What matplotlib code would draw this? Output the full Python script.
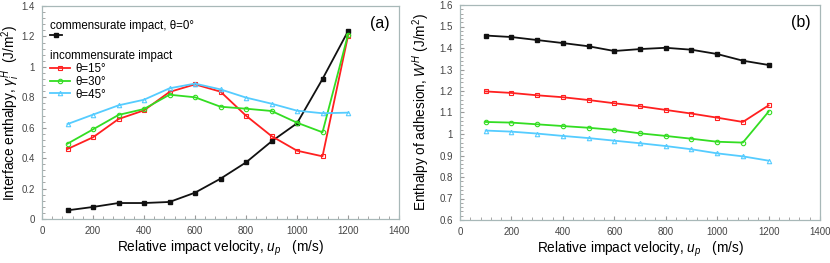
import matplotlib
matplotlib.use("Agg")
import matplotlib.pyplot as plt
from matplotlib.ticker import AutoMinorLocator, FuncFormatter

plt.rcParams["font.family"] = ["Liberation Sans", "DejaVu Sans"]
plt.rcParams["mathtext.fontset"] = "custom"
plt.rcParams["mathtext.rm"] = "Liberation Sans"
plt.rcParams["mathtext.it"] = "Liberation Sans:italic"

velocity = [100, 200, 300, 400, 500, 600, 700, 800, 900, 1000, 1100, 1200]

# Panel (a): interface enthalpy
gamma_0 = [0.057, 0.079, 0.105, 0.105, 0.112, 0.173, 0.265, 0.372, 0.51, 0.629, 0.92, 1.234]
gamma_15 = [0.46, 0.537, 0.657, 0.714, 0.835, 0.885, 0.837, 0.679, 0.545, 0.449, 0.412, 1.203]
gamma_30 = [0.495, 0.589, 0.684, 0.723, 0.817, 0.80, 0.738, 0.725, 0.71, 0.633, 0.57, 1.212]
gamma_45 = [0.624, 0.686, 0.747, 0.784, 0.859, 0.89, 0.852, 0.798, 0.758, 0.712, 0.695, 0.699]

# Panel (b): enthalpy of adhesion
w_0 = [1.458, 1.451, 1.437, 1.423, 1.408, 1.386, 1.395, 1.401, 1.392, 1.372, 1.341, 1.321]
w_15 = [1.198, 1.191, 1.18, 1.171, 1.158, 1.143, 1.129, 1.112, 1.095, 1.076, 1.056, 1.133]
w_30 = [1.056, 1.053, 1.045, 1.037, 1.029, 1.019, 1.003, 0.991, 0.978, 0.964, 0.96, 1.104]
w_45 = [1.016, 1.011, 1.002, 0.991, 0.981, 0.969, 0.957, 0.944, 0.929, 0.91, 0.896, 0.876]

labels = ["\u03b8=15\u00b0", "\u03b8=30\u00b0", "\u03b8=45\u00b0"]

C_BLACK = "#111111"
C_RED = "#ff2020"
C_GREEN = "#33dd22"
C_CYAN = "#55ccff"
SPINE = "#a8b8b8"

fig = plt.figure(figsize=(8.30, 2.63), dpi=100)
axa = fig.add_axes([42/830, 1 - 219/263, 357/830, 213/263])
axb = fig.add_axes([460/830, 1 - 220/263, 360/830, 215/263])

def style(ax):
    for s in ax.spines.values():
        s.set_color(SPINE)
        s.set_linewidth(0.9)
    ax.xaxis.set_minor_locator(AutoMinorLocator(5))
    ax.yaxis.set_minor_locator(AutoMinorLocator(5))
    ax.tick_params(which="both", direction="in", color="#999999", labelsize=7,
                   labelcolor="#444444", top=False, right=False)
    ax.tick_params(which="major", length=3, pad=5)
    ax.tick_params(which="minor", length=2)
    ax.set_xlim(0, 1400)
    ax.set_xticks(range(0, 1401, 200))
    ax.set_xlabel("Relative impact velocity, $u_p$   (m/s)", fontsize=9.8, labelpad=2)
    ax.yaxis.set_major_formatter(FuncFormatter(lambda v, p: f"{v:g}"))

kw = dict(lw=1.3, ms=3.2)
# Panel (a)
h0, = axa.plot(velocity, gamma_0, color=C_BLACK, marker="s", mfc=C_BLACK, **kw)
h15, = axa.plot(velocity, gamma_15, color=C_RED, marker="s", mfc="none", mew=0.8, **kw)
h30, = axa.plot(velocity, gamma_30, color=C_GREEN, marker="o", mfc="none", mew=0.8, **kw)
h45, = axa.plot(velocity, gamma_45, color=C_CYAN, marker="^", mfc="none", mew=0.8, **kw)
axa.set_ylim(0, 1.4)
axa.set_yticks([0, 0.2, 0.4, 0.6, 0.8, 1.0, 1.2, 1.4])
style(axa)
axa.set_ylabel("Interface enthalpy, $\\gamma_i^H$  (J/m$^2$)", fontsize=9.8)
axa.yaxis.set_label_coords(-0.055, 0.5)
axa.text(0.975, 0.955, "(a)", transform=axa.transAxes, ha="right", va="top", fontsize=11.5)

leg1 = axa.legend([h0], [""], loc="upper left", bbox_to_anchor=(0.02, 0.94),
                  title="commensurate impact, \u03b8=0\u00b0", frameon=False,
                  handlelength=1.5, borderaxespad=0.0, borderpad=0.1,
                  title_fontproperties={"size": 8.3}, alignment="left", fontsize=6,
                  labelspacing=0.0, handletextpad=0.2)
axa.add_artist(leg1)
axa.legend([h15, h30, h45], labels, loc="upper left", bbox_to_anchor=(0.02, 0.80),
           title="incommensurate impact", frameon=False, handlelength=1.7,
           borderaxespad=0.0, borderpad=0.1, title_fontproperties={"size": 8.3},
           alignment="left", fontsize=8.3, labelspacing=0.08, handletextpad=0.5)

# Panel (b)
axb.plot(velocity, w_0, color=C_BLACK, marker="s", mfc=C_BLACK, **kw)
axb.plot(velocity, w_15, color=C_RED, marker="s", mfc="none", mew=0.8, **kw)
axb.plot(velocity, w_30, color=C_GREEN, marker="o", mfc="none", mew=0.8, **kw)
axb.plot(velocity, w_45, color=C_CYAN, marker="^", mfc="none", mew=0.8, **kw)
axb.set_ylim(0.6, 1.6)
axb.set_yticks([0.6, 0.7, 0.8, 0.9, 1.0, 1.1, 1.2, 1.3, 1.4, 1.5, 1.6])
style(axb)
axb.set_ylabel("Enthalpy of adhesion, $W^H$ (J/m$^2$)", fontsize=9.8)
axb.yaxis.set_label_coords(-0.077, 0.5)
axb.text(0.975, 0.955, "(b)", transform=axb.transAxes, ha="right", va="top", fontsize=11.5)

fig.savefig("out.png", dpi=100)
